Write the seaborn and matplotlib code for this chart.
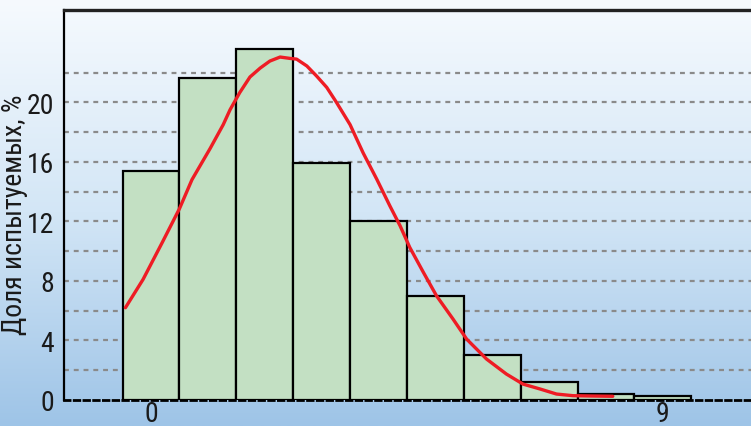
import numpy as np
import pandas as pd
import matplotlib
matplotlib.use("Agg")
import matplotlib.pyplot as plt
from matplotlib.colors import LinearSegmentedColormap
import seaborn as sns

# ---- data ----
bins = [0, 1, 2, 3, 4, 5, 6, 7, 8, 9]
shares = [15.4, 21.6, 23.6, 15.9, 12.0, 7.0, 3.0, 1.2, 0.4, 0.28]

curve_x = [-0.45, -0.14, 0.20, 0.50, 0.72, 1.04, 1.27, 1.39, 1.56, 1.74, 1.92,
           2.09, 2.27, 2.44, 2.56, 2.74, 2.91, 3.09, 3.26, 3.50, 3.73, 3.97,
           4.20, 4.38, 4.55, 4.79, 5.02, 5.31, 5.55, 5.90, 6.25, 6.54, 6.84,
           7.13, 7.42, 7.72, 8.12]
curve_y = [6.2, 8.1, 10.6, 12.85, 14.8, 16.9, 18.5, 19.5, 20.65, 21.7, 22.3,
           22.77, 23.04, 22.95, 22.9, 22.44, 21.77, 21.0, 20.0, 18.5, 16.6, 14.83,
           13.04, 11.7, 10.25, 8.57, 7.0, 5.44, 4.09, 2.75, 1.74, 1.07, 0.74,
           0.40, 0.29, 0.27, 0.25]

xtick_vals = [0, 9]
xtick_labels = ["0", "9"]
ytick_vals = [0, 4, 8, 12, 16, 20]
grid_vals = [2, 4, 6, 8, 10, 12, 14, 16, 18, 20, 22]
ylabel = "Доля испытуемых, %"

sns.set_theme(style="white")
plt.rcParams['font.family'] = ['Roboto Condensed', 'DejaVu Sans']

fig = plt.figure(figsize=(7.51, 4.27), dpi=100)

# background gradient
bg = fig.add_axes([0, 0, 1, 1], zorder=-10)
grad = np.linspace(0, 1, 256).reshape(-1, 1)
cmap = LinearSegmentedColormap.from_list("bg", ["#f6fafe", "#d3e6f6", "#9ec4e7"])
bg.imshow(grad, aspect="auto", cmap=cmap, extent=[0, 1, 0, 1])
bg.set_axis_off()

ax = fig.add_axes([64/751, 1 - 401/427, 1 - 64/751, (401 - 11)/427])
ax.set_facecolor("none")

df = pd.DataFrame({"bin": bins, "share": shares})
sns.barplot(data=df, x="bin", y="share", native_scale=True, width=1.0,
            color="#c3e0c3", saturation=1, edgecolor="black", linewidth=1.6,
            ax=ax, zorder=3)

cdf = pd.DataFrame({"x": curve_x, "y": curve_y})
sns.lineplot(data=cdf, x="x", y="y", color="#ee1c24", linewidth=2.4, ax=ax,
             zorder=5, sort=False)

for g in grid_vals:
    ax.axhline(g, color="#8a8a8a", linewidth=1.6, linestyle=(0, (2.2, 2.2)), zorder=1)

ax.set_xlim(-1.53, 10.55)
ax.set_ylim(0, 26.2)

ax.set_xticks(xtick_vals)
ax.set_xticklabels(xtick_labels)
ax.set_yticks(ytick_vals)
ax.set_yticklabels([str(v) for v in ytick_vals])
ax.tick_params(axis="both", length=0, labelsize=20, colors="#1a1a1a")
ax.tick_params(axis="y", pad=7)
ax.tick_params(axis="x", pad=0)

ax.set_xlabel("")
ax.set_ylabel(ylabel, fontsize=20, color="#1a1a1a")
ax.yaxis.set_label_coords(-0.053, 0.477)

ax.spines["right"].set_visible(False)
ax.spines["left"].set_color("black")
ax.spines["left"].set_linewidth(1.6)
ax.spines["top"].set_color("#222222")
ax.spines["top"].set_linewidth(2.4)
ax.spines["bottom"].set_color("black")
ax.spines["bottom"].set_linewidth(2.0)
ax.spines["bottom"].set_linestyle((0, (2.0, 1.5)))
ax.spines["bottom"].set_zorder(6)

fig.savefig("out.png", dpi=100)
